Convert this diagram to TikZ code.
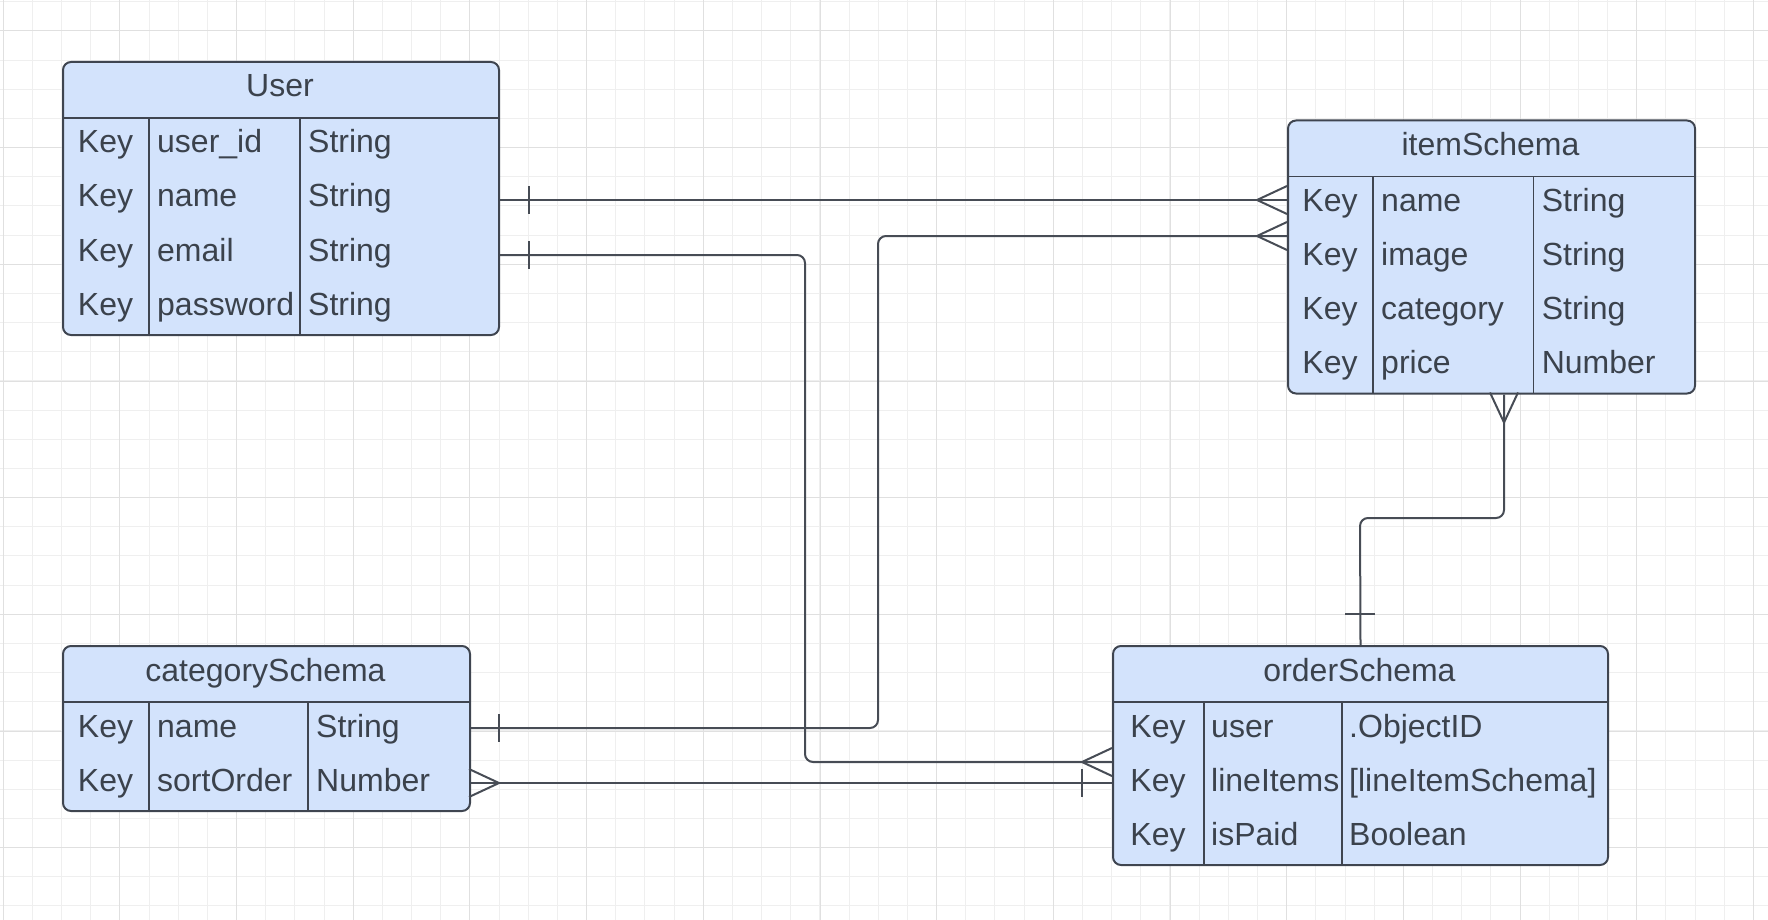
\documentclass[tikz,border=0pt]{standalone}
\usepackage{fontspec}
\setmainfont{Liberation Sans}

\definecolor{gridminor}{HTML}{EFEFEF}
\definecolor{gridmajor}{HTML}{E0E0E0}
\definecolor{tablefill}{HTML}{D3E3FC}
\definecolor{tableline}{HTML}{3F4550}
\definecolor{tabletext}{HTML}{3B424C}
\definecolor{linkline}{HTML}{474C55}

\tikzset{
  table/.style={draw=tableline, line width=2pt, fill=tablefill, rounded corners=8pt,
    inner sep=0pt, anchor=north west},
  divider/.style={draw=tableline, line width=1.6pt},
  cell/.style={text=tabletext, font=\fontsize{32}{38}\selectfont, inner sep=0pt, anchor=base west},
  keycell/.style={cell, anchor=base},
  title/.style={cell, anchor=base},
  link/.style={draw=linkline, line width=2pt, rounded corners=8pt},
  endmark/.style={draw=linkline, line width=2pt},
}

\begin{document}
\begin{tikzpicture}[x=1pt, y=-1pt]

    \useasboundingbox (0,0) rectangle (1768,920);

    % Grid paper
    \foreach \k in {0,...,60}
        \draw[gridminor, line width=1pt] ({3.3+29.167*\k},0) -- ++(0,920);
    \foreach \k in {0,...,31}
        \draw[gridminor, line width=1pt] (0,{1.8+29.167*\k}) -- ++(1768,0);
    \foreach \k in {0,...,15}
        \draw[gridmajor, line width=1pt] ({3.3+116.67*\k},0) -- ++(0,920);
    \foreach \k in {0,...,7}
        \draw[gridmajor, line width=1pt] (0,{31+116.67*\k}) -- ++(1768,0);

    % User table
    \node[table, minimum width=436pt, minimum height=273pt] (user) at (62,61) {};
    \node[title] (user-title) at (280,97) {User};
    \draw[divider] (62,118) -- (498,118);
    \draw[divider] (149,118) -- (149,334);
    \draw[divider] (300,118) -- (300,334);
    \foreach \field/\type [count=\i] in {user\_id/String, name/String, email/String, password/String} {
        \node[keycell] (user-key\i) at (105.5,{118+35+(\i-1)*54}) {Key};
        \node[cell] (user-field\i) at (157,{118+35+(\i-1)*54}) {\field};
        \node[cell] (user-type\i) at (308,{118+35+(\i-1)*54}) {\type};
    }

    % itemSchema table
    \node[table, minimum width=407pt, minimum height=273pt] (item) at (1287,119.5) {};
    \node[title] (item-title) at (1490.5,155.5) {itemSchema};
    \draw[divider] (1287,176.5) -- (1694,176.5);
    \draw[divider] (1373,176.5) -- (1373,392.5);
    \draw[divider] (1533.6,176.5) -- (1533.6,392.5);
    \foreach \field/\type [count=\i] in {name/String, image/String, category/String, price/Number} {
        \node[keycell] (item-key\i) at (1330,{176.5+35+(\i-1)*54}) {Key};
        \node[cell] (item-field\i) at (1381,{176.5+35+(\i-1)*54}) {\field};
        \node[cell] (item-type\i) at (1541.6,{176.5+35+(\i-1)*54}) {\type};
    }

    % categorySchema table
    \node[table, minimum width=407pt, minimum height=165pt] (category) at (62,645) {};
    \node[title] (category-title) at (265.5,681) {categorySchema};
    \draw[divider] (62,702) -- (469,702);
    \draw[divider] (149,702) -- (149,810);
    \draw[divider] (308,702) -- (308,810);
    \foreach \field/\type [count=\i] in {name/String, sortOrder/Number} {
        \node[keycell] (category-key\i) at (105.5,{702+35+(\i-1)*54}) {Key};
        \node[cell] (category-field\i) at (157,{702+35+(\i-1)*54}) {\field};
        \node[cell] (category-type\i) at (316,{702+35+(\i-1)*54}) {\type};
    }

    % orderSchema table
    \node[table, minimum width=495pt, minimum height=219pt] (order) at (1112,645) {};
    \node[title] (order-title) at (1359.5,681) {orderSchema};
    \draw[divider] (1112,702) -- (1607,702);
    \draw[divider] (1204,702) -- (1204,864);
    \draw[divider] (1342,702) -- (1342,864);
    \foreach \field/\type [count=\i] in {user/.ObjectID, lineItems/{[lineItemSchema]}, isPaid/Boolean} {
        \node[keycell] (order-key\i) at (1158,{702+35+(\i-1)*54}) {Key};
        \node[cell] (order-field\i) at (1211,{702+35+(\i-1)*54}) {\field};
        \node[cell] (order-type\i) at (1349,{702+35+(\i-1)*54}) {\type};
    }

    % User -- itemSchema (one to many)
    \draw[link] (user.east |- 0,200) -- (item.west |- 0,200);
    \draw[endmark] (529,186) -- (529,214);
    \draw[endmark] (1287,186) -- (1257,200) -- (1287,214);

    % User -- orderSchema (one to many)
    \draw[link] (user.east |- 0,255) -| (805,762) -- (order.west |- 0,762);
    \draw[endmark] (529,241) -- (529,269);
    \draw[endmark] (1112,748) -- (1082,762) -- (1112,776);

    % categorySchema -- itemSchema (one to many)
    \draw[link] (category.east |- 0,728) -| (878,236) -- (item.west |- 0,236);
    \draw[endmark] (499,714) -- (499,742);
    \draw[endmark] (1287,222) -- (1257,236) -- (1287,250);

    % categorySchema -- orderSchema (many to one)
    \draw[link] (category.east |- 0,783) -- (order.west |- 0,783);
    \draw[endmark] (469,769) -- (499,783) -- (469,797);
    \draw[endmark] (1082,769) -- (1082,797);

    % orderSchema -- itemSchema (one to many)
    \draw[link] (item.south -| 1504,0) |- (1360,518) -- (order.north);
    \draw[endmark] (1490,392.5) -- (1504,422.5) -- (1518,392.5);
    \draw[endmark] (1345,614) -- (1375,614);

\end{tikzpicture}
\end{document}
